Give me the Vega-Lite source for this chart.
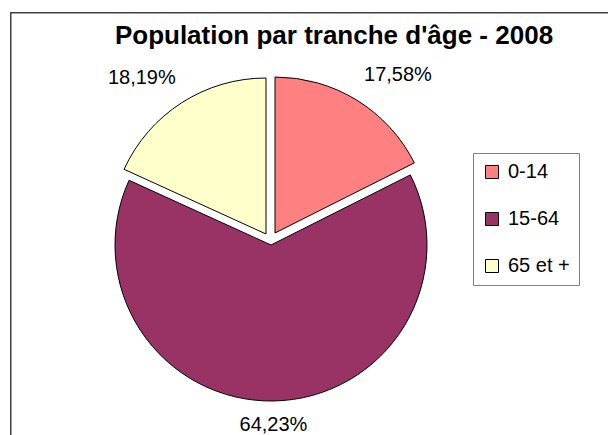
{
  "$schema": "https://vega.github.io/schema/vega-lite/v6.json",
  "autosize": "none",
  "padding": {"left": 10, "top": 12, "right": 0, "bottom": 0},
  "width": 600,
  "height": 423,
  "background": "white",
  "config": {"view": {"stroke": null}, "font": "Liberation Sans"},
  "title": {"text": "Population par tranche d'âge - 2008", "fontSize": 26, "fontWeight": "bold", "font": "Liberation Sans", "color": "black", "anchor": "middle", "frame": "group", "offset": -37, "dx": 24},
  "layer": [
    {
      "data": {"values": [{"edge": "left"}]},
      "mark": {"type": "rect", "x": 0, "x2": 1.5, "y": 0, "y2": "height", "fill": "#404040", "strokeWidth": 0},
      "encoding": {}
    },
    {
      "data": {"values": [{"edge": "top"}]},
      "mark": {"type": "rect", "x": 0, "x2": {"expr": "width - 2"}, "y": 0, "y2": 1.5, "fill": "#404040", "strokeWidth": 0},
      "encoding": {}
    },
    {
      "data": {"values": [
        {"cat": "0-14", "ord": 1, "pct": 17.58, "label": "17,58%"},
        {"cat": "15-64", "ord": 2, "pct": 64.23, "label": "64,23%"},
        {"cat": "65 et +", "ord": 3, "pct": 18.19, "label": "18,19%"}
      ]},
      "encoding": {
        "theta": {"field": "pct", "type": "quantitative", "stack": true},
        "order": {"field": "ord", "type": "quantitative"}
      },
      "layer": [
        {
          "mark": {"type": "arc", "radius": 156, "stroke": "black", "strokeWidth": 1, "xOffset": -39, "yOffset": 21.5},
          "encoding": {
            "color": {"field": "cat", "type": "nominal", "scale": {"domain": ["0-14", "15-64", "65 et +"], "range": ["#FF8080", "#993366", "#FFFFCC"]},
              "legend": {"orient": "none", "legendX": 463, "legendY": 141, "title": null, "strokeColor": "#808080", "fillColor": "white", "padding": 9, "symbolType": "square", "symbolSize": 169, "symbolStrokeColor": "black", "symbolStrokeWidth": 1, "symbolOpacity": 1, "labelFontSize": 20, "labelFont": "Liberation Sans", "labelColor": "black", "rowPadding": 27, "labelOffset": 6}},
            "opacity": {"condition": {"test": "datum.cat === '15-64'", "value": 1}, "value": 0}
          }
        },
        {
          "mark": {"type": "arc", "radius": 156, "stroke": "black", "strokeWidth": 1, "xOffset": -35, "yOffset": 9.5},
          "encoding": {
            "color": {"field": "cat", "type": "nominal"},
            "opacity": {"condition": {"test": "datum.cat === '0-14'", "value": 1}, "value": 0}
          }
        },
        {
          "mark": {"type": "arc", "radius": 156, "stroke": "black", "strokeWidth": 1, "xOffset": -44, "yOffset": 10.5},
          "encoding": {
            "color": {"field": "cat", "type": "nominal"},
            "opacity": {"condition": {"test": "datum.cat === '65 et +'", "value": 1}, "value": 0}
          }
        },
        {
          "mark": {"type": "text", "radius": 200, "fontSize": 20, "font": "Liberation Sans", "fill": "black", "baseline": "middle", "align": "center", "xOffset": -17, "yOffset": 21.5},
          "encoding": {
            "text": {"field": "label"},
            "detail": {"field": "cat"},
            "opacity": {"condition": {"test": "datum.cat === '0-14'", "value": 1}, "value": 0}
          }
        },
        {
          "mark": {"type": "text", "radius": 181, "fontSize": 20, "font": "Liberation Sans", "fill": "black", "baseline": "middle", "align": "center", "xOffset": -40, "yOffset": 20.5},
          "encoding": {
            "text": {"field": "label"},
            "detail": {"field": "cat"},
            "opacity": {"condition": {"test": "datum.cat === '15-64'", "value": 1}, "value": 0}
          }
        },
        {
          "mark": {"type": "text", "radius": 200, "fontSize": 20, "font": "Liberation Sans", "fill": "black", "baseline": "middle", "align": "center", "xOffset": -60, "yOffset": 22.5},
          "encoding": {
            "text": {"field": "label"},
            "detail": {"field": "cat"},
            "opacity": {"condition": {"test": "datum.cat === '65 et +'", "value": 1}, "value": 0}
          }
        }
      ]
    }
  ]
}
